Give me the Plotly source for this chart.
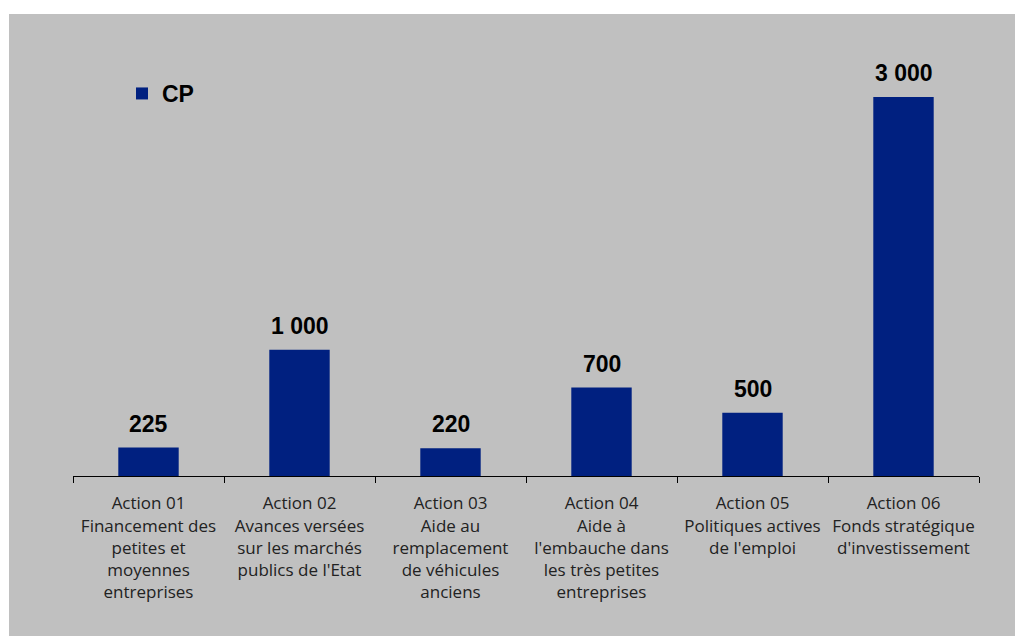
import plotly.graph_objects as go

categories = [
    "Action 01<br>Financement des<br>petites et<br>moyennes<br>entreprises",
    "Action 02<br>Avances versées<br>sur les marchés<br>publics de l'Etat",
    "Action 03<br>Aide au<br>remplacement<br>de véhicules<br>anciens",
    "Action 04<br>Aide à<br>l'embauche dans<br>les très petites<br>entreprises",
    "Action 05<br>Politiques actives<br>de l'emploi",
    "Action 06<br>Fonds stratégique<br>d'investissement",
]
cp_values = [225, 1000, 220, 700, 500, 3000]
series_name = "CP"

labels = [f"{v:,}".replace(",", " ") for v in cp_values]

W, H = 1015, 636
ml, mr, mt, mb = 73, 36, 59, 160
pw = W - ml - mr
ph = H - mt - mb

fig = go.Figure()
fig.add_trace(go.Bar(
    x=categories, y=cp_values, name=f"<b>{series_name}</b>",
    marker=dict(color="#002080", line=dict(width=0)),
    width=0.40, showlegend=True,
))

for c, v, t in zip(categories, cp_values, labels):
    fig.add_annotation(x=c, y=v, text=f"<b>{t}</b>", showarrow=False,
                       yanchor="bottom", yshift=9,
                       font=dict(family="Liberation Sans, Arial", size=23, color="#000000"))

# grey panel background
fig.add_shape(type="rect", xref="paper", yref="paper",
              x0=(9 - ml) / pw, x1=(W + 20 - ml) / pw,
              y0=(H - mb - (H + 20)) / ph, y1=(H - mb - 14) / ph,
              fillcolor="#C0C0C0", line=dict(width=0), layer="below")

fig.update_layout(
    width=W, height=H,
    margin=dict(l=ml, r=mr, t=mt, b=mb, pad=0),
    paper_bgcolor="#FFFFFF", plot_bgcolor="#C0C0C0",
    showlegend=True,
    legend=dict(x=(122 - ml) / pw, y=(H - mb - 72) / ph, xanchor="left", yanchor="top",
                bgcolor="rgba(0,0,0,0)",
                font=dict(family="Liberation Sans, Arial", size=23, color="#000000")),
    font=dict(family="Open Sans, Liberation Sans, Arial", color="#222222"),
)
fig.update_xaxes(
    showline=True, linecolor="#000000", linewidth=1,
    ticks="outside", tickson="boundaries", ticklen=6, tickcolor="#000000", tickwidth=1,
    ticklabelstandoff=12,
    tickfont=dict(family="Open Sans, Liberation Sans, Arial", size=17, color="#222222"),
    tickangle=0, showgrid=False, zeroline=False,
)
fig.update_yaxes(range=[0, 3300], visible=False, showgrid=False, zeroline=False)

fig.write_html("out.html", config={"displayModeBar": False},
               post_script="document.body.style.margin='0';document.body.style.overflow='hidden';")
